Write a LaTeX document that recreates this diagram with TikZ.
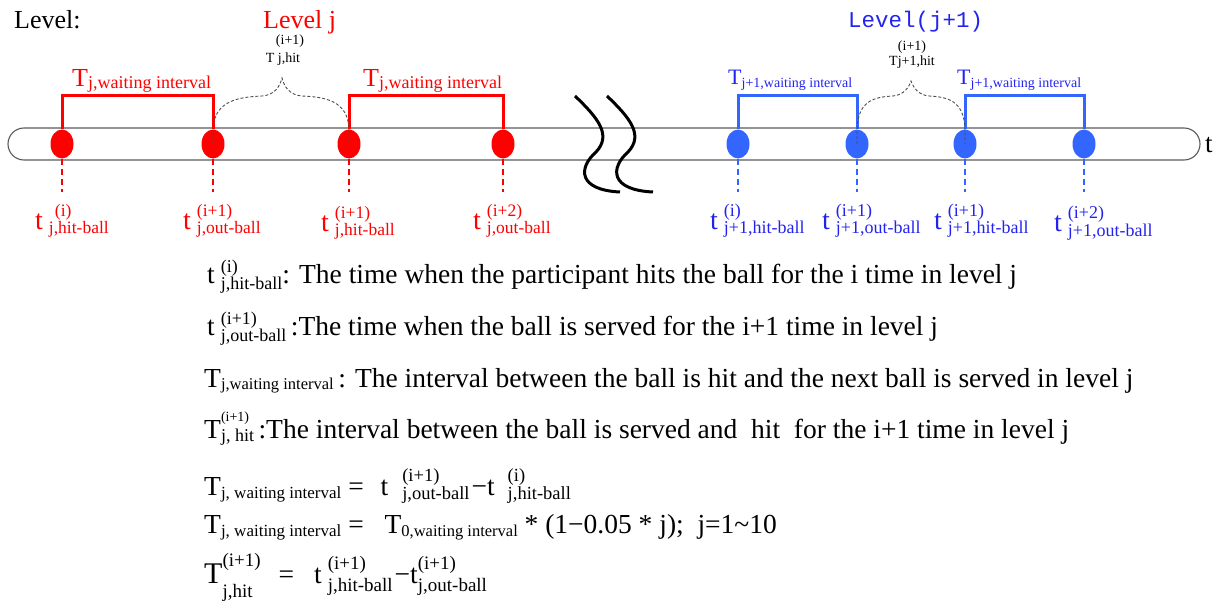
\documentclass[tikz,border=0pt]{standalone}
\usepackage{fontspec}
\setmainfont{Liberation Serif}
\newfontfamily\monof{Liberation Mono}
\usetikzlibrary{shapes.geometric}
\definecolor{rd}{RGB}{255,0,0}
\definecolor{bd}{RGB}{51,102,255}
\definecolor{bt}{RGB}{35,35,240}
\definecolor{axisgray}{RGB}{90,90,90}
\newcommand{\fs}[1]{\fontsize{#1}{#1}\selectfont}
\newlength\wsa \newlength\wsb
% #1 size, #2 sup, #3 sub, #4 raise sup, #5 raise sub
\newcommand{\scr}[5]{%
 \settowidth{\wsa}{\fs{#1}#2}%
 \settowidth{\wsb}{\fs{#1}#3}%
 \ifdim\wsa>\wsb \setlength{\wsb}{\wsa}\fi
 \makebox[\wsb][l]{\rlap{\raisebox{#4}{\fs{#1}#2}}\raisebox{#5}{\fs{#1}#3}}}
% two sizes: #1 sup size, #2 sup, #3 sub size, #4 sub, #5 raise, #6 lower
\newcommand{\scrtwo}[6]{%
 \settowidth{\wsa}{\fs{#1}#2}%
 \settowidth{\wsb}{\fs{#3}#4}%
 \ifdim\wsa>\wsb \setlength{\wsb}{\wsa}\fi
 \makebox[\wsb][l]{\rlap{\raisebox{#5}{\fs{#1}#2}}\raisebox{#6}{\fs{#3}#4}}}
\begin{document}
\begin{tikzpicture}[x=1pt,y=-1pt,
  dotr/.style={ellipse, fill=rd, minimum width=23pt, minimum height=29pt, inner sep=0pt},
  dotb/.style={ellipse, fill=bd, minimum width=23pt, minimum height=29pt, inner sep=0pt},
  bracketr/.style={draw=rd, line width=3pt},
  bracketb/.style={draw=bd, line width=3pt},
  dropr/.style={draw=rd, line width=1.8pt, dash pattern=on 6pt off 4pt},
  dropb/.style={draw=bd, line width=1.8pt, dash pattern=on 6pt off 4pt},
  brace/.style={draw=black!70, line width=0.9pt, dash pattern=on 3pt off 2pt},
  tlabr/.style={anchor=base west, inner sep=0pt, text=rd, font=\fs{28}},
  tlabb/.style={anchor=base west, inner sep=0pt, text=bt, font=\fs{28}},
  wlabr/.style={anchor=base west, inner sep=0pt, text=rd, font=\fs{26}},
  wlabb/.style={anchor=base west, inner sep=0pt, text=bt, font=\fs{22}},
  small/.style={anchor=base, inner sep=0pt, font=\fs{14}},
  line/.style={anchor=base west, inner sep=0pt, font=\fs{27.5}},
  squig/.style={draw=black, line width=3pt}
]
\useasboundingbox (0,0) rectangle (1217,607);

% axis
\node[draw=axisgray, line width=1.1pt, rounded corners=16pt, minimum width=1192pt, minimum height=32pt, inner sep=0pt] (axis) at (604,144) {};
\node[anchor=base west, inner sep=0pt, font=\fs{27}] (tax) at (1205,152) {t};

% headings
\node[anchor=base west, inner sep=0pt, font=\fs{26}] (lev) at (14,29) {Level:};
\node[anchor=base west, inner sep=0pt, font=\fs{26}, text=rd] (levj) at (263,29) {Level j};
\node[anchor=base west, inner sep=0pt, font=\monof\fs{22.5}, text=bt] (levj1) at (848,28) {Level(j+1)};

% dots
\node[dotr] (r1) at (62,144) {};
\node[dotr] (r2) at (213,144) {};
\node[dotr] (r3) at (349,144) {};
\node[dotr] (r4) at (503,144) {};
\node[dotb] (b1) at (738,144) {};
\node[dotb] (b2) at (857,144) {};
\node[dotb] (b3) at (965,144) {};
\node[dotb] (b4) at (1084,144) {};

% bracket tops
\coordinate (tr1) at (62,96);
\coordinate (tr3) at (349,96);
\coordinate (tb1) at (738,96);
\coordinate (tb3) at (965,96);
\draw[bracketr] (r1.north) -- (tr1) -| (r2.north);
\draw[bracketr] (r3.north) -- (tr3) -| (r4.north);
\draw[bracketb] (b1.north) -- (tb1) -| (b2.north);
\draw[bracketb] (b3.north) -- (tb3) -| (b4.north);

% waiting interval labels
\node[wlabr] (w1) at (72,87) {T\scr{18}{}{j,waiting interval}{0pt}{-2pt}};
\node[wlabr] (w2) at (363,87) {T\scr{18}{}{j,waiting interval}{0pt}{-2pt}};
\node[wlabb] (w3) at (728,85) {T\scr{14}{}{j+1,waiting interval}{0pt}{-2pt}};
\node[wlabb] (w4) at (957,85) {T\scr{14}{}{j+1,waiting interval}{0pt}{-2pt}};

% dashed braces
\draw[brace] (r2.center) -- (r2.north) .. controls (214,100) and (240,97) .. (262,96) .. controls (275,95) and (280,86) .. (282,78) .. controls (284,86) and (289,95) .. (302,96) .. controls (324,97) and (348,100) .. (r3.north) -- (r3.center);
\draw[brace] (b2.center) -- (b2.north) .. controls (858,100) and (875,97) .. (893,96) .. controls (904,95) and (909,87) .. (911,81) .. controls (913,87) and (918,95) .. (929,96) .. controls (947,97) and (964,100) .. (b3.north) -- (b3.center);
\node[small] (h1a) at (290,45) {(i+1)};
\node[small] (h1b) at (283,63) {T j,hit};
\node[small] (h2a) at (912,51) {(i+1)};
\node[small] (h2b) at (912,66) {Tj+1,hit};

% drops
\coordinate (dr1) at (62,192);
\coordinate (dr2) at (213,192);
\coordinate (dr3) at (349,192);
\coordinate (dr4) at (503,192);
\coordinate (db1) at (738,192);
\coordinate (db2) at (857,192);
\coordinate (db3) at (965,192);
\coordinate (db4) at (1084,192);
\draw[dropr] (r1.south) -- (dr1);
\draw[dropr] (r2.south) -- (dr2);
\draw[dropr] (r3.south) -- (dr3);
\draw[dropr] (r4.south) -- (dr4);
\draw[dropb] (b1.south) -- (db1);
\draw[dropb] (b2.south) -- (db2);
\draw[dropb] (b3.south) -- (db3);
\draw[dropb] (b4.south) -- (db4);

% time labels
\node[tlabr] (lr1) at (35,229) {t\hspace{6pt}\scr{17.5}{\hspace{6pt}(i)}{j,hit-ball}{13pt}{-4pt}};
\node[tlabr] (lr2) at (183,229) {t\hspace{6pt}\scr{17.5}{(i+1)}{j,out-ball}{13pt}{-4pt}};
\node[tlabr] (lr3) at (321,231) {t\hspace{6pt}\scr{17.5}{(i+1)}{j,hit-ball}{13pt}{-4pt}};
\node[tlabr] (lr4) at (473,229) {t\hspace{6pt}\scr{17.5}{(i+2)}{j,out-ball}{13pt}{-4pt}};
\node[tlabb] (lb1) at (710,229) {t\hspace{6pt}\scr{18}{(i)}{j+1,hit-ball}{13pt}{-4pt}};
\node[tlabb] (lb2) at (822,229) {t\hspace{6pt}\scr{18}{(i+1)}{j+1,out-ball}{13pt}{-4pt}};
\node[tlabb] (lb3) at (934,229) {t\hspace{6pt}\scr{18}{(i+1)}{j+1,hit-ball}{13pt}{-4pt}};
\node[tlabb] (lb4) at (1054,231) {t\hspace{6pt}\scr{18}{(i+2)}{j+1,out-ball}{13pt}{-5pt}};

% squiggles (break marks)
\draw[squig] (575,96) .. controls (598,118) and (612,135) .. (596,152) .. controls (578,168) and (578,190) .. (620,192);
\draw[squig] (607,96) .. controls (630,118) and (644,135) .. (628,152) .. controls (610,168) and (610,190) .. (653,192);

% definitions
\node[line] (d1) at (207,283) {t\hspace{6pt}\scr{18}{(i)}{j,hit-ball}{11pt}{-6pt}: The time when the participant hits the ball for the i time in level j};
\node[line] (d2) at (207,335) {t\hspace{6pt}\scr{18}{(i+1)}{j,out-ball}{11pt}{-6pt}\,:The time when the ball is served for the i+1 time in level j};
\node[line] (d3) at (204,387) {T\scr{16.5}{}{j,waiting interval}{0pt}{-2pt}\,: The interval between the ball is hit and the next ball is served in level j};
\node[line] (d4) at (204,438) {T\scrtwo{14}{(i+1)}{18}{j, hit}{17pt}{-3pt}\,:The interval between the ball is served and \ hit \ for the i+1 time in level j};
\node[line] (d5) at (204,495) {T\scr{17}{}{j, waiting interval}{0pt}{-3pt} = \hspace{10pt}t\hspace{14pt}\scr{18.5}{(i+1)}{j,out-ball}{14pt}{-4pt}\hspace{2pt}−t\hspace{13pt}\scr{18.5}{(i)}{j,hit-ball}{14pt}{-4pt}};
\node[line] (d6) at (204,533) {T\scr{17}{}{j, waiting interval}{0pt}{-3pt} = \hspace{14pt}T\scr{16.5}{}{0,waiting interval}{0pt}{-3pt} * (1−0.05 * j); \ j=1\textasciitilde 10};
\node[line] (d7) at (204,583) {{\fs{30}T}\scr{19}{(i+1)}{j,hit}{17pt}{-14pt}\hspace{18pt}=\hspace{20pt}t\hspace{6pt}\scr{19}{(i+1)}{j,hit-ball}{14pt}{-8pt}\hspace{2pt}−t\scr{19}{(i+1)}{j,out-ball}{14pt}{-8pt}};
\end{tikzpicture}
\end{document}
